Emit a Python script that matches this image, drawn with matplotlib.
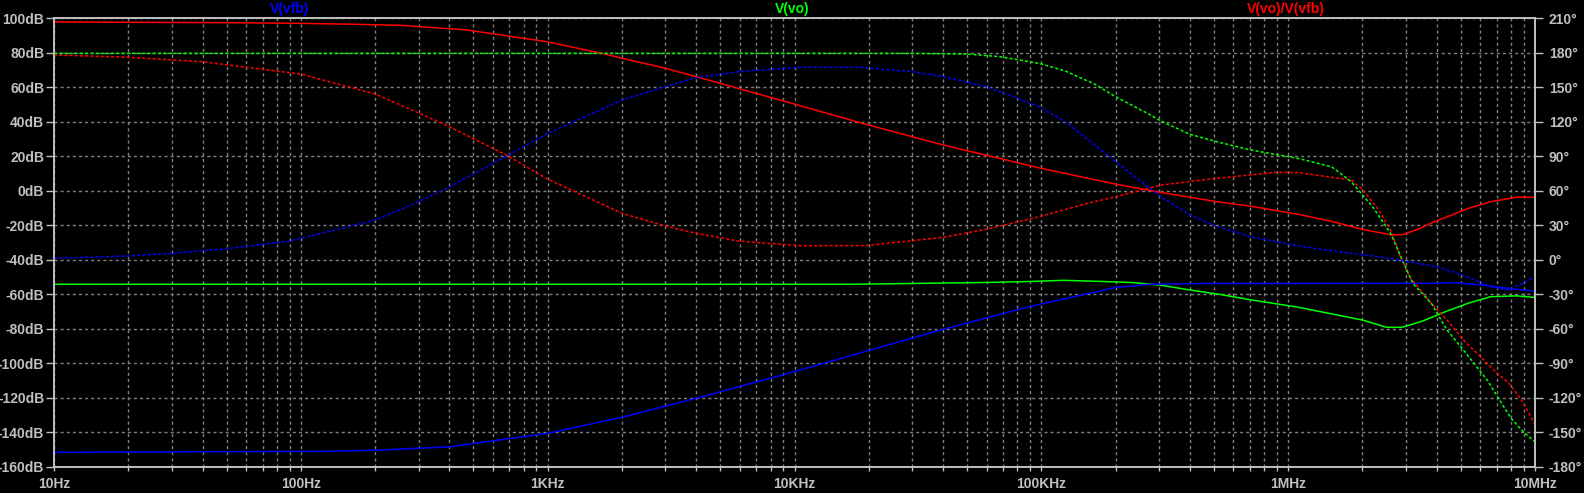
import numpy as np
import matplotlib
matplotlib.use("Agg")
import matplotlib.pyplot as plt
from matplotlib.ticker import FixedLocator, LogLocator, NullFormatter

# V(vo)/V(vfb) - loop gain
loop_f = [10, 50, 100, 160, 250, 470, 990, 1660, 2000, 3000, 4000, 5900, 10500, 19500, 40000,
          98000, 200000, 305000, 515000, 700000, 1.1e6, 1.5e6, 2.0e6, 2.6e6, 2.9e6, 3.4e6, 3.9e6,
          4.4e6, 5.3e6, 6.6e6, 8.4e6, 1e7]
loop_db = [97.7, 97.3, 96.9, 96.4, 95.8, 93.1, 86.3, 79.5, 76.7, 70.9, 66.0, 59.3, 49.3, 38.4, 26.5,
           13.2, 3.8, -1.0, -6.4, -8.9, -13.7, -17.8, -22.4, -25.5, -25.5, -22.0, -18.0,
           -15.2, -10.5, -6.4, -3.8, -3.8]
loop_ph_f = [10, 20, 40, 100, 200, 380, 680, 1000, 2000, 3000, 4000, 5900, 10500, 19500, 30000,
             40000, 60000, 98000, 150000, 200000, 305000, 515000, 900000, 1.1e6, 1.8e6, 2.0e6,
             2.3e6, 2.6e6, 2.85e6, 3.1e6, 3.8e6, 4.4e6, 5.2e6, 6.0e6, 6.9e6, 7.9e6, 8.7e6, 9.3e6, 1e7]
loop_ph = [177.9, 175.9, 172.0, 161.3, 144.0, 117.9, 91.0, 70.0, 40.4, 29.3, 23.0, 16.3, 12.2, 12.4, 16.6,
           19.5, 26.5, 37.4, 48.4, 54.8, 64.9, 70.8, 76.0, 75.7, 69.3, 61.2,
           44.7, 25.9, 2.7, -14.7, -37.8, -52.3, -71.0, -84.0, -97.0, -108.0, -120.0, -130.5, -143.5]

# V(vo)
vo_f = [10, 16900, 31000, 62000, 89000, 123000, 180000, 235000, 307000, 400000, 515000, 700000,
        1.1e6, 2.0e6, 2.5e6, 2.9e6, 3.5e6, 4.4e6, 5.4e6, 6.6e6, 8.4e6, 1e7]
vo_db = [-54.2, -54.2, -53.7, -53.1, -52.6, -51.9, -52.6, -53.2, -54.8, -57.5, -59.8, -63.1,
         -67.5, -74.9, -79.1, -79.1, -75.5, -69.7, -65.0, -61.4, -60.9, -61.8]
vo_ph_f = [10, 30000, 50000, 68000, 98000, 125000, 163000, 200000, 270000, 305000, 400000, 515000,
           700000, 1.1e6, 1.5e6, 1.8e6, 2.2e6, 2.6e6, 2.9e6, 3.2e6, 3.8e6, 4.4e6, 5.2e6, 6.4e6,
           7.1e6, 8.0e6, 9.0e6, 1e7]
vo_ph = [179.3, 179.3, 178.7, 176.4, 170.6, 164.0, 153.0, 141.6, 127.0, 120.5, 109.0, 102.5,
         95.5, 88.0, 80.8, 67.8, 46.0, 23.0, -0.2, -20.4, -37.8, -61.0, -80.0, -104.4,
         -120.0, -137.7, -149.9, -158.0]

# V(vfb)
vfb_f = [10, 128, 200, 400, 1000, 2000, 4000, 10000, 20000, 40000, 89000, 200000, 277000, 470000,
         1.1e6, 4.0e6, 4.6e6, 6.0e6, 8.4e6, 1e7]
vfb_db = [-151.5, -150.9, -150.3, -148.3, -140.5, -131.2, -120.2, -104.8, -92.5, -80.3, -67.2, -56.0,
          -54.2, -53.7, -53.7, -53.6, -53.2, -54.5, -57.1, -58.1]
vfb_ph_f = [10, 20, 30, 50, 90, 200, 300, 390, 680, 1000, 2000, 3000, 4000, 5900, 10500, 18000,
            30000, 40000, 60000, 98000, 125000, 200000, 270000, 305000, 400000, 515000, 700000,
            1.1e6, 1.6e6, 2.36e6, 4.0e6, 5.1e6, 6.6e6, 7.8e6, 8.9e6, 1e7]
vfb_ph = [1.3, 3.3, 5.6, 9.6, 16.3, 34.5, 50.4, 62.0, 90.0, 109.7, 138.8, 150.4, 158.2, 163.4, 167.2, 167.2,
          163.4, 159.0, 150.4, 133.0, 120.0, 85.3, 63.5, 54.8, 38.9, 28.8, 20.1,
          12.0, 7.0, 2.5, -6.0, -13.2, -23.4, -26.3, -20.4, -14.7]

x_ticks = [10, 100, 1e3, 1e4, 1e5, 1e6, 1e7]
x_labels = ["10Hz", "100Hz", "1KHz", "10KHz", "100KHz", "1MHz", "10MHz"]
db_ticks = list(range(-160, 101, 20))
ph_ticks = list(range(-180, 211, 30))

RED, GREEN, BLUE = "#ff0000", "#00ff00", "#0000ff"
FG = "#c0c0c0"
GRID = "#808080"
font = ["Liberation Sans", "DejaVu Sans"]

fig = plt.figure(figsize=(15.84, 4.93), dpi=100, facecolor="black")
ax = fig.add_axes([54 / 1584, 26 / 493, 1481 / 1584, 449 / 493], facecolor="black")
ax2 = ax.twinx()

dot = (0, (2.0, 1.4))
ax.plot(loop_f, loop_db, color=RED, lw=1.1)
ax.plot(vo_f, vo_db, color=GREEN, lw=1.1)
ax.plot(vfb_f, vfb_db, color=BLUE, lw=1.1)
ax2.plot(loop_ph_f, loop_ph, color=RED, lw=1.1, ls=dot)
ax2.plot(vo_ph_f, vo_ph, color=GREEN, lw=1.1, ls=dot)
ax2.plot(vfb_ph_f, vfb_ph, color=BLUE, lw=1.1, ls=dot)

ax.set_xscale("log")
ax.set_xlim(10, 1e7)
ax.set_ylim(-160, 100)
ax2.set_ylim(-180, 210)

ax.xaxis.set_major_locator(FixedLocator(x_ticks))
ax.set_xticklabels(x_labels)
ax.xaxis.set_minor_locator(LogLocator(base=10, subs=np.arange(2, 10)))
ax.xaxis.set_minor_formatter(NullFormatter())
ax.set_yticks(db_ticks)
ax.set_yticklabels([f"{v}dB" for v in db_ticks])
ax2.set_yticks(ph_ticks)
ax2.set_yticklabels([f"{v}\u00b0" for v in ph_ticks])

ax.grid(True, which="both", axis="x", color=GRID, ls=(0, (2.2, 2.2)), lw=1.0)
ax.grid(True, which="major", axis="y", color=GRID, ls=(0, (2.2, 2.2)), lw=1.0)

for a in (ax, ax2):
    for s in a.spines.values():
        s.set_color(FG)
        s.set_linewidth(1.2)
ax.tick_params(axis="y", colors=FG, length=6, width=1, pad=1, labelsize=10)
ax2.tick_params(axis="y", colors=FG, length=6, width=1, pad=4, labelsize=10)
ax.tick_params(axis="x", which="both", colors=FG, length=3, width=1, pad=4, labelsize=10)
for lab in ax.get_xticklabels() + ax.get_yticklabels() + ax2.get_yticklabels():
    lab.set_family(font)
    lab.set_fontweight("bold")

for txt, col, xf in [("V(vfb)", BLUE, 0.1594), ("V(vo)", GREEN, 0.4987), ("V(vo)/V(vfb)", RED, 0.832)]:
    ax.text(xf, 1 + 9 / 449, txt, transform=ax.transAxes, color=col, ha="center", va="center",
            fontsize=10, family=font, fontweight="bold")

fig.savefig("out.png", dpi=100, facecolor="black")
